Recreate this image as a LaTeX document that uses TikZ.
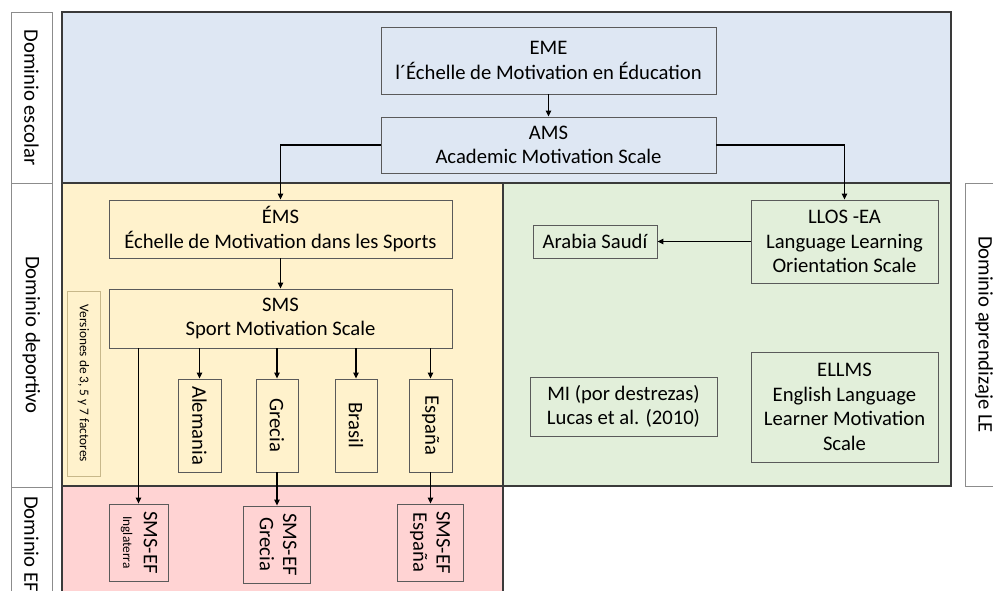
\documentclass[tikz,border=0pt]{standalone}
\usepackage{fontspec}
\setmainfont{Carlito}
\usetikzlibrary{arrows.meta}
\definecolor{bgblue}{HTML}{DEE7F3}
\definecolor{bgyellow}{HTML}{FFF2CC}
\definecolor{bggreen}{HTML}{E2EFDA}
\definecolor{bgred}{HTML}{FFD3D3}
\definecolor{framecol}{HTML}{3A3A3A}
\definecolor{boxline}{HTML}{5A5A5A}
\definecolor{tanline}{HTML}{C8B88A}
\definecolor{labline}{HTML}{8C8C8C}
\newcommand{\mainfs}{\fontsize{15.5}{18.5}\selectfont}
\newcommand{\smallfs}{\fontsize{10}{12}\selectfont}
\newcommand{\vtext}[1]{\rotatebox[origin=c]{-90}{#1}}
\begin{document}
\begin{tikzpicture}[x=0.75pt,y=-0.75pt,
  region/.style={draw=framecol,line width=1.2pt},
  lab/.style={draw=labline,line width=0.7pt,inner sep=0pt,font=\mainfs},
  wh/.style 2 args={minimum width=#1*0.75pt,minimum height=#2*0.75pt},
  box/.style={draw=boxline,line width=0.6pt,inner sep=0pt,align=center,font=\mainfs},
  arr/.style={line width=0.9pt,-{Triangle[length=4.5pt,width=4pt]}}]
\useasboundingbox (0,0) rectangle (993,591);
\begin{scope}
\clip (0,0) rectangle (993,591);
% domain areas
\fill[bgblue] (62,12) rectangle (951,183);
\fill[bgyellow] (62,183) rectangle (503,486);
\fill[bggreen] (503,183) rectangle (951,486);
\fill[bgred] (62,486) rectangle (503,600);
\draw[region] (62,12) rectangle (951,183);
\draw[region] (62,183) rectangle (503,486);
\draw[region] (503,183) rectangle (951,486);
\draw[region] (62,486) rectangle (503,600);

% side labels
\node[lab,wh={41}{171}] (dom1) at (31.5,97.5) {\vtext{Dominio escolar}};
\node[lab,wh={41}{304}] (dom2) at (31.5,335) {\vtext{Dominio deportivo}};
\node[lab,wh={41}{114}] (dom3) at (31.5,544) {\vtext{Dominio EF}};
\node[lab,wh={46}{303}] (dom4) at (988,334.5) {};
\node[font=\mainfs,inner sep=0pt] (dom4t) at (984,334.5) {\vtext{Dominio aprendizaje LE}};

% school domain
\node[box,wh={335}{67}] (eme) at (548.5,60.5) {EME\\l´Échelle de Motivation en Éducation};
\node[box,wh={335}{56}] (ams) at (548.5,145) {AMS\\Academic Motivation Scale};

% sport domain
\node[box,wh={343}{58}] (ems) at (280.5,229) {ÉMS\\Échelle de Motivation dans les Sports};
\node[box,wh={343}{59}] (sms) at (280.5,318.5) {SMS\\Sport Motivation Scale};
\node[draw=tanline,line width=0.6pt,inner sep=0pt,wh={33}{185}] (ver) at (83.5,383.5)
  {\vtext{\smallfs Versiones de 3, 5 y 7 factores}};
\node[box,wh={43}{93}] (ale) at (199.5,425.5) {\vtext{Alemania}};
\node[box,wh={42}{93}] (gre) at (277,425.5) {\vtext{Grecia}};
\node[box,wh={42}{93}] (bra) at (356,425.5) {\vtext{Brasil}};
\node[box,wh={43}{93}] (esp) at (430.5,425.5) {\vtext{España}};

% physical education domain
\node[box,wh={59}{77}] (efing) at (138.5,542.5)
  {\vtext{\begin{tabular}{@{}c@{}}SMS-EF\\[-3pt]{\smallfs Inglaterra}\end{tabular}}};
\node[box,wh={67}{77}] (efgre) at (276.5,544.5)
  {\vtext{\begin{tabular}{@{}c@{}}SMS-EF\\[-1pt]Grecia\end{tabular}}};
\node[box,wh={66}{77}] (efesp) at (430,542.5)
  {\vtext{\begin{tabular}{@{}c@{}}SMS-EF\\[-1pt]España\end{tabular}}};

% language learning domain
\node[box,wh={187}{83}] (llos) at (844.5,241.5) {LLOS -EA\\Language Learning\\Orientation Scale};
\node[box,wh={124}{33}] (ara) at (595,241.5) {Arabia Saudí};
\node[box,wh={187}{59}] (mi) at (623.5,406.5) {MI (por destrezas)\\Lucas et al. (2010)};
\node[box,wh={187}{110}] (ellms) at (844.5,407) {ELLMS\\English Language\\Learner Motivation\\Scale};

% connectors
\draw[arr] (eme.south) -- (ams.north);
\draw[arr] (ams.west) -| (ems.north);
\draw[arr] (ams.east) -| (llos.north);
\draw[arr] (ems.south) -- (sms.north);
\foreach \n in {ale,gre,bra,esp} \draw[arr] (sms.south -| \n.north) -- (\n.north);
\draw[arr] (sms.south -| efing.north) -- (efing.north);
\draw[arr] (gre.south) -- (gre.south |- efgre.north);
\draw[arr] (esp.south) -- (esp.south |- efesp.north);
\draw[arr] (llos.west) -- (llos.west -| ara.east);
\end{scope}
\end{tikzpicture}
\end{document}
